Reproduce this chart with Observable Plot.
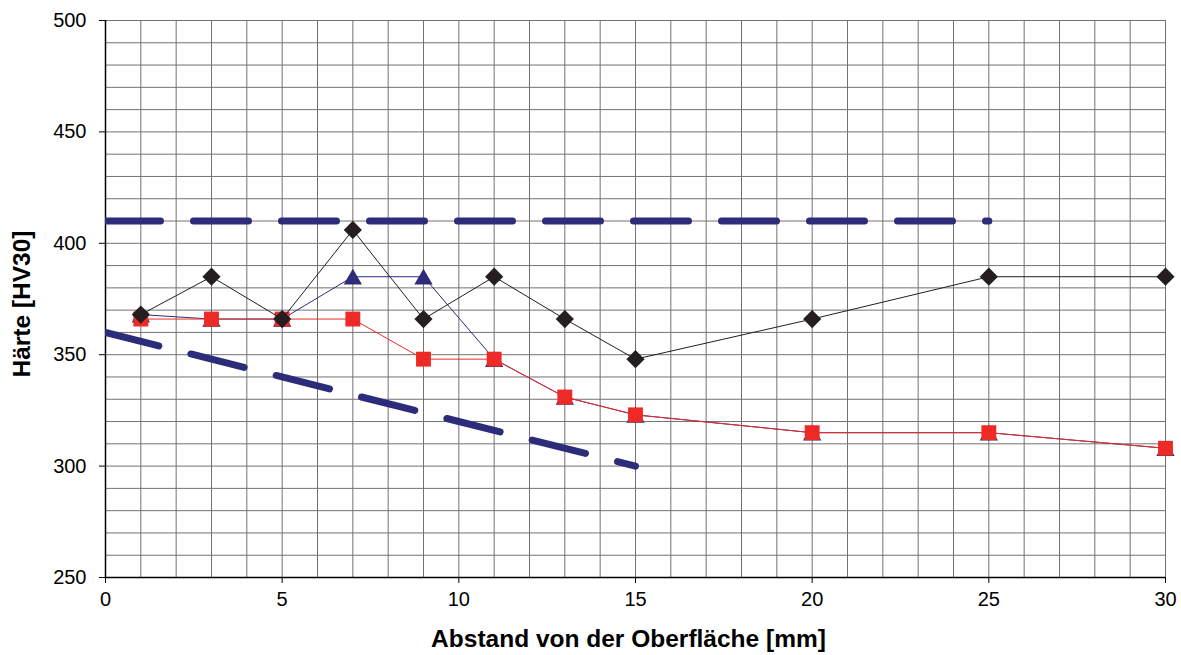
<!DOCTYPE html>
<html>
<head>
<meta charset="utf-8">
<script src="https://cdn.jsdelivr.net/npm/d3@7"></script>
<script src="https://cdn.jsdelivr.net/npm/@observablehq/plot@0.6"></script>
<style>
  html, body { margin: 0; padding: 0; background: #fff; }
  #chart { width: 1181px; height: 655px; }
</style>
</head>
<body>
<div id="chart"></div>
<script>
// Data
const xs = [1, 3, 5, 7, 9, 11, 13, 15, 20, 25, 30];
const diamondVals  = [368, 385, 366, 406, 366, 385, 366, 348, 366, 385, 385];
const triangleVals = [368, 366, 366, 385, 385, 348, 331, 323, 315, 315, 308];
const squareVals   = [366, 366, 366, 366, 348, 348, 331, 323, 315, 315, 308];

// Reference (limit) lines
const upperRefX = [0, 25];
const upperRefY = [410, 410];
const lowerRefX = [0, 15];
const lowerRefY = [360, 300];

// Axis ticks
const xTicks = [0, 5, 10, 15, 20, 25, 30];
const yTicks = [250, 300, 350, 400, 450, 500];
const xGrid = d3.range(0, 31, 1);
const yGrid = d3.range(250, 501, 10);

const xLabel = "Abstand von der Oberfläche [mm]";
const yLabel = "Härte [HV30]";

const toRows = (x, y) => x.map((v, i) => ({x: v, y: y[i]}));
const diamonds = toRows(xs, diamondVals);
const triangles = toRows(xs, triangleVals);
const squares = toRows(xs, squareVals);
const upperRef = toRows(upperRefX, upperRefY);
const lowerRef = toRows(lowerRefX, lowerRefY);

const navy = "#2D2C7A";
const red = "#EE2A27";
const black = "#231F20";
const gridColor = "#727272";

const chart = Plot.plot({
  width: 1181,
  height: 655,
  marginLeft: 105,
  marginRight: 16,
  marginTop: 20,
  marginBottom: 78,
  style: {fontFamily: "'Liberation Sans', Arial, sans-serif", background: "#fff", overflow: "visible"},
  x: {domain: [0, 30]},
  y: {domain: [250, 500]},
  marks: [
    Plot.gridX(xGrid, {stroke: gridColor, strokeOpacity: 1, strokeWidth: 1}),
    Plot.gridY(yGrid, {stroke: gridColor, strokeOpacity: 1, strokeWidth: 1}),
    Plot.axisY(yTicks, {tickSize: 6, tickPadding: 13, fontSize: 20, fill: "#000", label: null, tickFormat: d => d}),
    Plot.axisX(xTicks, {tickSize: 6, tickPadding: 8, fontSize: 20, fill: "#000", label: null, tickFormat: d => d}),
    Plot.ruleX([0], {stroke: "#000", strokeWidth: 1.5}),
    Plot.ruleY([250], {stroke: "#000", strokeWidth: 1.5}),
    Plot.line(upperRef, {x: "x", y: "y", stroke: navy, strokeWidth: 7, strokeLinecap: "round", strokeDasharray: "55,33", clip: true}),
    Plot.line(lowerRef, {x: "x", y: "y", stroke: navy, strokeWidth: 7, strokeLinecap: "round", strokeDasharray: "55,33", clip: true}),
    Plot.line(triangles, {x: "x", y: "y", stroke: navy, strokeWidth: 1}),
    Plot.dot(triangles, {x: "x", y: "y", symbol: "triangle", r: 6.8, dy: 2.5, fill: navy, stroke: "none"}),
    Plot.line(squares, {x: "x", y: "y", stroke: red, strokeWidth: 1}),
    Plot.dot(squares, {x: "x", y: "y", symbol: "square", r: 8.4, fill: red, stroke: "none"}),
    Plot.line(diamonds, {x: "x", y: "y", stroke: black, strokeWidth: 1}),
    Plot.dot(diamonds, {x: "x", y: "y", symbol: "diamond2", r: 8.2, fill: black, stroke: "none"}),
    Plot.text([xLabel], {frameAnchor: "bottom", dx: -7, dy: 62, lineAnchor: "middle", textAnchor: "middle", fontSize: 24.5, fontWeight: "bold", fill: "#000", text: d => d}),
    Plot.text([yLabel], {frameAnchor: "left", dx: -83, dy: 5, rotate: -90, lineAnchor: "middle", textAnchor: "middle", fontSize: 24.5, fontWeight: "bold", fill: "#000", text: d => d})
  ]
});
document.getElementById("chart").appendChild(chart);
</script>
</body>
</html>
